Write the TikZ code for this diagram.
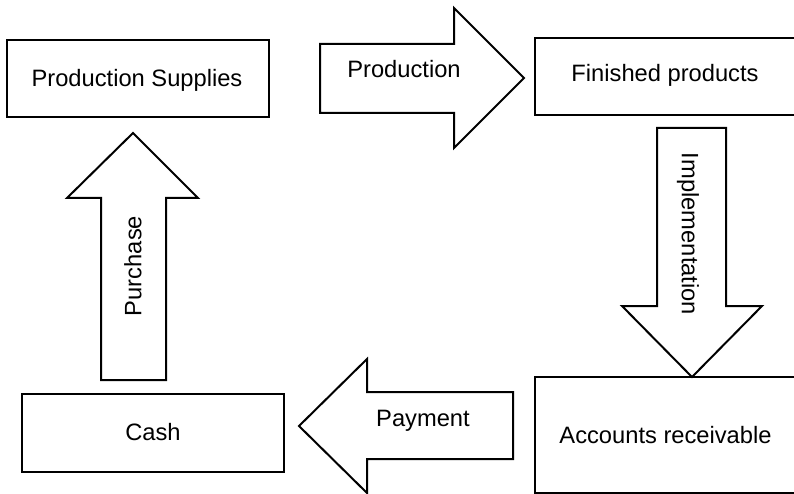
\documentclass[tikz,border=0pt]{standalone}
\usepackage{fontspec}
\setmainfont{Liberation Sans}
\begin{document}
\begin{tikzpicture}[x=1pt,y=-1pt,
  box/.style={draw=black,line width=2pt,fill=white},
  blockarrow/.style={draw=black,line width=2pt,line join=miter,fill=white},
  lbl/.style={inner sep=0pt,font=\fontsize{23.7}{28}\selectfont}]
\useasboundingbox (0,0) rectangle (794,494);
\clip (0,0) rectangle (794,494);
% boxes
\draw[box] (7,40) rectangle (269,117);
\draw[box] (535,38) rectangle (796,115);
\draw[box] (22,394) rectangle (284,472);
\draw[box] (535,377) rectangle (796,493);
% block arrows
\draw[blockarrow] (320,44) -- (454,44) -- (454,8) -- (524,78) -- (454,148) -- (454,113) -- (320,113) -- cycle;
\draw[blockarrow] (657,128) -- (726,128) -- (726,306) -- (762,306) -- (692,377) -- (622,306) -- (657,306) -- cycle;
\draw[blockarrow] (513,392) -- (367,392) -- (367,359) -- (299,426) -- (367,493) -- (367,459) -- (513,459) -- cycle;
\draw[blockarrow] (101,380) -- (101,198) -- (67,198) -- (133,133) -- (198,198) -- (166,198) -- (166,380) -- cycle;
% labels
\node[lbl,anchor=base] (ps) at (137,87) {Production Supplies};
\node[lbl,anchor=base] (fp) at (665,82) {Finished products};
\node[lbl,anchor=base] (cash) at (153,440) {Cash};
\node[lbl,anchor=base] (ar) at (665.5,443) {Accounts receivable};
\node[lbl,anchor=base] (prod) at (404,78) {Production};
\node[lbl,anchor=base] (pay) at (423,426) {Payment};
\node[lbl,rotate=-90] (impl) at (688,234) {Implementation};
\node[lbl,rotate=90] (pur) at (133,266) {Purchase};
\end{tikzpicture}
\end{document}
